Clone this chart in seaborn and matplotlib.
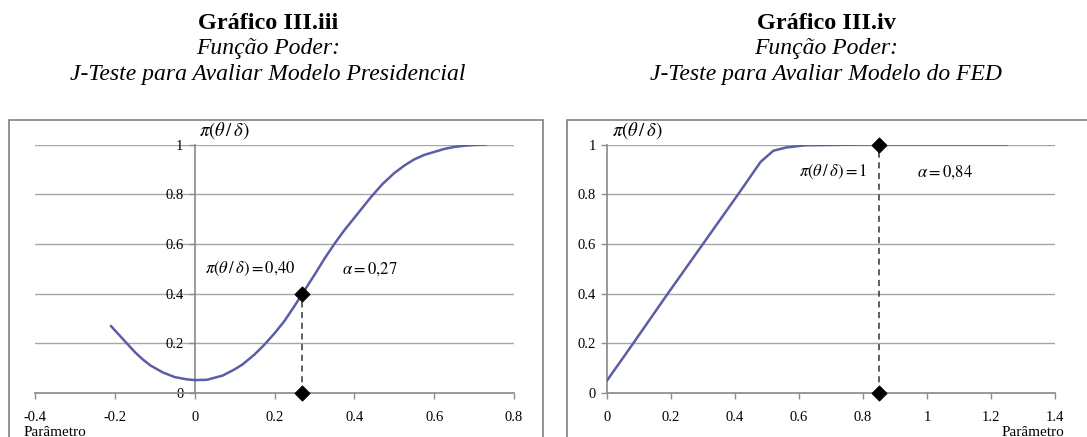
import numpy as np
import pandas as pd
import matplotlib
matplotlib.use("Agg")
import matplotlib.pyplot as plt
import seaborn as sns
from matplotlib.patches import Rectangle

# --- data ---
pres_param = [-0.21, -0.19, -0.17, -0.15, -0.13, -0.11, -0.08, -0.05, -0.02, 0.0, 0.03, 0.07, 0.10,
              0.12, 0.15, 0.175, 0.20, 0.225, 0.25, 0.27, 0.30, 0.325, 0.35, 0.375, 0.40,
              0.42, 0.44, 0.47, 0.50, 0.525, 0.55, 0.575, 0.60, 0.625, 0.65, 0.675, 0.70, 0.73]
pres_power = [0.27, 0.235, 0.20, 0.165, 0.135, 0.11, 0.083, 0.064, 0.055, 0.052, 0.053, 0.07, 0.095,
              0.115, 0.155, 0.195, 0.24, 0.29, 0.35, 0.40, 0.475, 0.54, 0.60, 0.655, 0.705,
              0.745, 0.785, 0.84, 0.885, 0.915, 0.94, 0.958, 0.97, 0.982, 0.99, 0.995, 0.998, 1.0]
pres_alpha = 0.27
pres_pi = 0.40

fed_param = [0.0, 0.082, 0.19, 0.30, 0.41, 0.48, 0.52, 0.56, 0.62, 0.80, 1.0, 1.25]
fed_power = [0.05, 0.20, 0.40, 0.60, 0.80, 0.93, 0.975, 0.988, 0.997, 1.0, 1.0, 1.0]
fed_alpha = 0.85
fed_pi = 1.0

pres_xticks = [-0.4, -0.2, 0.0, 0.2, 0.4, 0.6, 0.8]
pres_xlabels = ["-0.4", "-0.2", "0", "0.2", "0.4", "0.6", "0.8"]
fed_xticks = [0.0, 0.2, 0.4, 0.6, 0.8, 1.0, 1.2, 1.4]
fed_xlabels = ["0", "0.2", "0.4", "0.6", "0.8", "1", "1.2", "1.4"]
yticks = [0.0, 0.2, 0.4, 0.6, 0.8, 1.0]
ylabels = ["0", "0.2", "0.4", "0.6", "0.8", "1"]

sns.set_theme(style="white")
plt.rcParams["font.family"] = ["Liberation Serif", "DejaVu Serif"]
plt.rcParams["mathtext.fontset"] = "stix"
plt.rcParams["text.color"] = "black"
plt.rcParams["xtick.labelcolor"] = "black"
plt.rcParams["ytick.labelcolor"] = "black"

W, H = 1087, 437
fig = plt.figure(figsize=(W / 100, H / 100), dpi=100)

line_color = "#5B5EA6"
grid_color = "#A6A6A6"
axis_color = "#8C8C8C"


def px_axes(x0, x1, y_top, y_bot):
    return fig.add_axes([x0 / W, 1 - y_bot / H, (x1 - x0) / W, (y_bot - y_top) / H])


def style_axes(ax, xticks, xlabels, xlim):
    ax.set_xlim(xlim)
    ax.set_ylim(0, 1)
    ax.set_xticks(xticks)
    ax.set_xticklabels(xlabels)
    ax.set_yticks(yticks)
    ax.set_yticklabels(ylabels)
    for y in yticks[1:]:
        ax.axhline(y, color=grid_color, lw=1, zorder=0)
    for s in ["top", "right"]:
        ax.spines[s].set_visible(False)
    ax.spines["left"].set_position(("data", 0))
    ax.spines["left"].set_color(axis_color)
    ax.spines["bottom"].set_color(axis_color)
    ax.tick_params(axis="both", direction="out", length=4, width=1, color=axis_color,
                   labelsize=10.5, pad=4, bottom=True, left=True, labelcolor="black")
    ax.tick_params(axis="x", pad=9)
    ax.set_xlabel("")
    ax.set_ylabel("")
    ax.patch.set_alpha(0)


def draw_panel(ax, xs, ys, alpha, pi_val):
    df = pd.DataFrame({"param": xs, "power": ys})
    sns.lineplot(data=df, x="param", y="power", ax=ax, color=line_color, lw=1.8,
                 sort=False, zorder=3)
    ax.plot([alpha, alpha], [0, pi_val], ls=(0, (4, 3)), color="#333333", lw=1.1, zorder=4)
    pts = pd.DataFrame({"param": [alpha, alpha], "power": [0, pi_val]})
    sns.scatterplot(data=pts, x="param", y="power", ax=ax, marker="D", s=60,
                    color="black", edgecolor="black", zorder=5, clip_on=False)


# frames around each chart
fig.patches.append(Rectangle((9 / W, -0.01), (543 - 9) / W, 1.01 - 120 / H, transform=fig.transFigure,
                             fill=False, edgecolor="#808080", lw=1.2))
fig.patches.append(Rectangle((567 / W, -0.01), (1095 - 567) / W, 1.01 - 120 / H, transform=fig.transFigure,
                             fill=False, edgecolor="#808080", lw=1.2))

# left chart
ax1 = px_axes(35, 514, 144.5, 393)
draw_panel(ax1, pres_param, pres_power, pres_alpha, pres_pi)
style_axes(ax1, pres_xticks, pres_xlabels, (-0.4, 0.8))
ax1.text(0.012, 1.015, r"$\pi(\theta\,/\,\delta)$", fontsize=13.5, ha="left", va="bottom")
ax1.text(0.025, 0.50, r"$\pi(\theta\,/\,\delta) = 0{,}40$", fontsize=12, ha="left", va="center")
ax1.text(0.37, 0.50, r"$\alpha = 0{,}27$", fontsize=12, ha="left", va="center")

# right chart
ax2 = px_axes(607, 1055, 144.5, 393)
draw_panel(ax2, fed_param, fed_power, fed_alpha, fed_pi)
style_axes(ax2, fed_xticks, fed_xlabels, (0, 1.4))
ax2.text(0.015, 1.015, r"$\pi(\theta\,/\,\delta)$", fontsize=13.5, ha="left", va="bottom")
ax2.text(0.60, 0.89, r"$\pi(\theta\,/\,\delta) = 1$", fontsize=12, ha="left", va="center")
ax2.text(0.97, 0.89, r"$\alpha = 0{,}84$", fontsize=12, ha="left", va="center")

# axis captions (cut by the bottom edge like the source)
fig.text(24 / W, 1 - 426 / H, "Parâmetro", fontsize=11, ha="left", va="top")
fig.text(1064 / W, 1 - 426 / H, "Parâmetro", fontsize=11, ha="right", va="top")

# titles
for cx, t1, t3 in [(268, "Gráfico III.iii", "J-Teste para Avaliar Modelo Presidencial"),
                   (826, "Gráfico III.iv", "J-Teste para Avaliar Modelo do FED")]:
    fig.text(cx / W, 1 - 29 / H, t1, fontsize=17.5, fontweight="bold", ha="center", va="baseline")
    fig.text(cx / W, 1 - 54 / H, "Função Poder:", fontsize=17, style="italic", ha="center", va="baseline")
    fig.text(cx / W, 1 - 80 / H, t3, fontsize=17, style="italic", ha="center", va="baseline")

fig.savefig("out.png", dpi=100)
